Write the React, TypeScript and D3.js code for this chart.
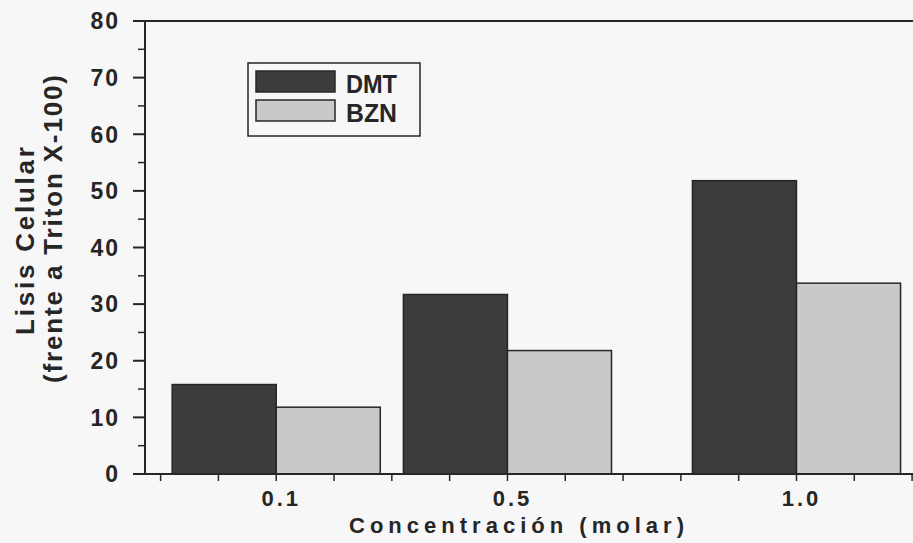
import { useMemo } from 'react';
import * as d3 from 'd3';

const concentrations = [0.1, 0.5, 1.0];
const dmtValues = [15.8, 31.7, 51.8];
const bznValues = [11.8, 21.8, 33.7];
const yTickValues = [0, 10, 20, 30, 40, 50, 60, 70, 80];
const yMinorValues = [5, 15, 25, 35, 45, 55, 65, 75];
const xTickValues = [-0.1, 0, 0.1, 0.2, 0.3, 0.4, 0.5, 0.6, 0.7, 0.8, 0.9, 1.0, 1.1, 1.2];
const xLabelValues = ['0.1', '0.5', '1.0'];
const seriesNames = ['DMT', 'BZN'];

const W = 913;
const H = 543;
const FONT = "'Liberation Sans', Arial, sans-serif";
const INK = '#262626';
const DARK = '#3c3c3c';
const LIGHT = '#c9c9c9';

const BarChart = () => {
  const xScale = useMemo(() => d3.scaleLinear().domain([-0.127, 1.25]).range([145, 941]), []);
  const yScale = useMemo(() => d3.scaleLinear().domain([0, 80]).range([474, 21]), []);

  // bar width in concentration units
  const barW = 0.18;
  const y0 = yScale(0);

  return (
    <svg width={W} height={H} style={{ position: 'absolute', left: 0, top: 0, background: '#f7f7f7' }}>
      <g fontFamily={FONT} fontWeight="bold" fill={INK}>
        {/* bars */}
        {concentrations.map((c, i) => (
          <g key={c}>
            <rect
              x={xScale(c - barW)}
              y={yScale(dmtValues[i])}
              width={xScale(c) - xScale(c - barW)}
              height={y0 - yScale(dmtValues[i])}
              fill={DARK}
              stroke={INK}
              strokeWidth={1.5}
            />
            <rect
              x={xScale(c)}
              y={yScale(bznValues[i])}
              width={xScale(c + barW) - xScale(c)}
              height={y0 - yScale(bznValues[i])}
              fill={LIGHT}
              stroke={INK}
              strokeWidth={1.5}
            />
          </g>
        ))}

        {/* frame: left, top, bottom */}
        <line x1={145} y1={yScale(80)} x2={145} y2={y0} stroke={INK} strokeWidth={2} />
        <line x1={133} y1={yScale(80)} x2={W} y2={yScale(80)} stroke={INK} strokeWidth={2} />
        <line x1={133} y1={y0} x2={W} y2={y0} stroke={INK} strokeWidth={2} />

        {/* y ticks */}
        {yTickValues.map(v => (
          <g key={v} transform={`translate(145, ${yScale(v)})`}>
            <line x2={-12} stroke={INK} strokeWidth={2} />
            <text x={-25} dy="0.36em" textAnchor="end" fontSize={23} letterSpacing={2}>{v}</text>
          </g>
        ))}
        {yMinorValues.map(v => (
          <line key={v} x1={138} x2={145} y1={yScale(v)} y2={yScale(v)} stroke={INK} strokeWidth={1.5} />
        ))}

        {/* x ticks */}
        {xTickValues.map(v => (
          <line key={v} x1={xScale(v)} x2={xScale(v)} y1={y0} y2={y0 + 7} stroke={INK} strokeWidth={1.5} />
        ))}
        {concentrations.map((c, i) => (
          <text key={c} x={xScale(c) + 5} y={506} textAnchor="middle" fontSize={22} letterSpacing={3}>
            {xLabelValues[i]}
          </text>
        ))}

        {/* axis titles */}
        <text x={349} y={533} fontSize={22} textLength={335} lengthAdjust="spacing">Concentración (molar)</text>
        <text transform="translate(34, 241) rotate(-90)" textAnchor="middle" fontSize={26} textLength={188} lengthAdjust="spacing">
          Lisis Celular
        </text>
        <text transform="translate(62, 229) rotate(-90)" textAnchor="middle" fontSize={26} textLength={308} lengthAdjust="spacing">
          (frente a Triton X-100)
        </text>

        {/* legend */}
        <rect x={248} y={63} width={172} height={73} fill="none" stroke={INK} strokeWidth={1.5} />
        {seriesNames.map((name, i) => (
          <g key={name} transform={`translate(0, ${i * 29})`}>
            <rect x={256} y={71} width={79} height={21} fill={i === 0 ? DARK : LIGHT} stroke={INK} strokeWidth={1.5} />
            <text x={346} y={93} fontSize={25} textLength={51} lengthAdjust="spacingAndGlyphs">{name}</text>
          </g>
        ))}
      </g>
    </svg>
  );
};

export default function App() {
  return <BarChart />;
}
